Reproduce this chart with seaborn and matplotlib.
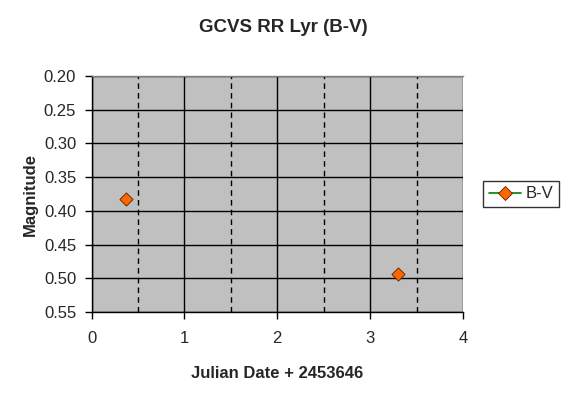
import matplotlib
matplotlib.use("Agg")
import matplotlib.pyplot as plt
import seaborn as sns
import pandas as pd
from matplotlib.ticker import MultipleLocator
from matplotlib.lines import Line2D

jd = [0.372, 3.30]
bv = [0.382, 0.493]
series = "B-V"

df = pd.DataFrame({"x": jd, "y": bv, "s": [series] * len(jd)})

sns.set_style("white")
plt.rcParams['font.family'] = ['Liberation Sans', 'DejaVu Sans']

fig = plt.figure(figsize=(5.66, 3.95), dpi=100)
ax = fig.add_axes([91.5/566, 1 - 312/395, (463 - 91.5)/566, (312 - 76)/395])
ax.set_facecolor('#C0C0C0')

sns.scatterplot(data=df, x="x", y="y", ax=ax, marker="D", s=45,
                color="#FF6600", edgecolor="#552200", linewidth=0.6,
                legend=False, zorder=5)

ax.set_xlim(0, 4)
ax.set_ylim(0.55, 0.20)
ax.xaxis.set_major_locator(MultipleLocator(1))
ax.xaxis.set_minor_locator(MultipleLocator(0.5))
ax.yaxis.set_major_locator(MultipleLocator(0.05))
ax.set_yticklabels([f"{v:.2f}" for v in ax.get_yticks()])
ax.grid(which='major', axis='both', color='black', linewidth=1, linestyle='-')
ax.grid(which='minor', axis='x', color='black', linewidth=1, linestyle=(0, (4, 3)))
ax.set_axisbelow(True)
for sp in ['left', 'bottom']:
    ax.spines[sp].set_color('black')
    ax.spines[sp].set_linewidth(1)
ax.spines['top'].set_color('#808080')
ax.spines['top'].set_linewidth(1)
ax.spines['right'].set_visible(False)
ax.tick_params(which='major', direction='out', length=5, width=1, color='black',
               labelsize=12, left=True, bottom=True)
ax.tick_params(axis='x', which='major', pad=9)
ax.tick_params(axis='y', which='major', pad=6)
ax.tick_params(which='minor', length=0)

ax.set_xlabel("Julian Date + 2453646", fontsize=12, fontweight='bold', labelpad=14)
ax.set_ylabel("Magnitude", fontsize=12, fontweight='bold', labelpad=4)
fig.text(283/566, 1 - 27/395, "GCVS RR Lyr (B-V)", ha='center', va='center',
         fontsize=13.5, fontweight='bold')

h = [Line2D([0], [0], color='#008000', lw=1.2, marker='D', markersize=7,
            markerfacecolor='#FF6600', markeredgecolor='#552200', markeredgewidth=0.6)]
leg = fig.legend(h, [series], loc='center left', bbox_to_anchor=(483/566, 1 - 194/395),
                 frameon=True, fancybox=False, fontsize=12, handlelength=1.9,
                 borderpad=0.35, handletextpad=0.3, borderaxespad=0)
leg.get_frame().set_edgecolor('black')
leg.get_frame().set_linewidth(1)

fig.savefig("out.png", dpi=100)
